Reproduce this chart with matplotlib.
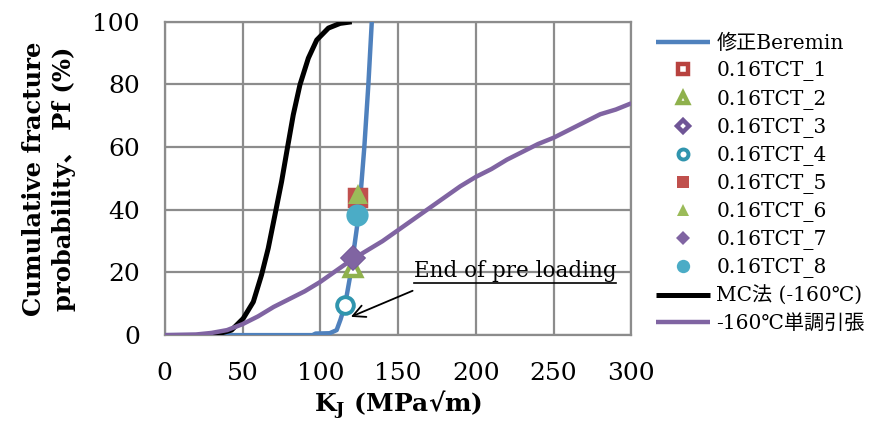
import matplotlib
matplotlib.use("Agg")
import matplotlib.pyplot as plt
from matplotlib.lines import Line2D

plt.rcParams['font.family'] = ['DejaVu Serif', 'Noto Sans CJK JP']
plt.rcParams['mathtext.fontset'] = 'dejavuserif'

# Modified Beremin model prediction
beremin_k = [0, 95, 97, 106, 110.5, 113, 115.9, 119.6, 121.7, 125.1, 128.3, 130.9, 133.1]
beremin_pf = [0, 0, 0.5, 0.6, 1.6, 5, 9.6, 20, 27.7, 40, 60, 80, 100]

# Monte Carlo method (-160 C)
mc_k = [25, 32, 42.9, 50.4, 56.9, 62.2, 66.5, 70.8, 75.1, 78.8, 82.6, 86.9, 92.3,
        97.7, 105.2, 112.7, 120.2]
mc_pf = [0, 0.1, 1.6, 5.3, 10.6, 19.2, 27.7, 38.3, 49, 59.6, 70.3, 79.9, 88.4,
         94.2, 98, 99.5, 100]

# Monotonic tension (-160 C)
mono_k = [0, 20, 30, 40, 50, 60, 70, 80, 90, 100, 110, 120, 130, 140, 150, 160, 170,
          180, 190, 200, 210, 220, 230, 240, 250, 260, 270, 280, 290, 300]
mono_pf = [0, 0.2, 0.7, 1.6, 3.5, 6, 9, 11.5, 14, 17, 20.5, 24, 27, 30, 33.5, 37, 40.5,
           44, 47.5, 50.5, 53, 56, 58.5, 61, 63, 65.5, 68, 70.5, 72, 74]

# 0.16TCT test results
tct_names = ['0.16TCT_1', '0.16TCT_2', '0.16TCT_3', '0.16TCT_4',
             '0.16TCT_5', '0.16TCT_6', '0.16TCT_7', '0.16TCT_8']
tct_k = [124.5, 121.3, 121.3, 115.9, 124.5, 124.5, 121.3, 123.8]
tct_pf = [43.9, 21.3, 24.5, 9.6, 43.9, 45, 24.5, 38.5]

x_ticks = [0, 50, 100, 150, 200, 250, 300]
y_ticks = [0, 20, 40, 60, 80, 100]

fig = plt.figure(figsize=(8.72, 4.28), dpi=100)
ax = fig.add_axes([0.189, 0.217, 0.535, 0.732])

grid_c = '#8c8c8c'
ax.set_xlim(0, 300)
ax.set_ylim(0, 100)
ax.set_xticks(x_ticks)
ax.set_yticks(y_ticks)
ax.grid(True, color=grid_c, lw=1.6)
ax.set_axisbelow(True)
for s in ax.spines.values():
    s.set_color(grid_c)
    s.set_linewidth(1.6)
ax.tick_params(length=0, labelsize=18)
ax.tick_params(axis='y', pad=18)
ax.tick_params(axis='x', pad=19)

blue = '#4F81BD'
line_kw = dict(solid_joinstyle='round', solid_capstyle='butt')
l_ber, = ax.plot(beremin_k, beremin_pf, color=blue, lw=3.2, zorder=3,
                 label='修正Beremin', **line_kw)

styles = [
    dict(marker='s', mfc='white', mec='#B8423F', ms=11, mew=3.2),
    dict(marker='^', mfc='white', mec='#8FB14C', ms=12, mew=3.2),
    dict(marker='D', mfc='white', mec='#6F5596', ms=10, mew=3.2),
    dict(marker='o', mfc='white', mec='#3095AE', ms=12, mew=2.8),
    dict(marker='s', mfc='#C0504D', mec='#C0504D', ms=14, mew=0),
    dict(marker='^', mfc='#9BBB59', mec='#9BBB59', ms=15, mew=0),
    dict(marker='D', mfc='#8064A2', mec='#8064A2', ms=12, mew=0),
    dict(marker='o', mfc='#4BACC6', mec='#4BACC6', ms=16, mew=0),
]
tct_handles = []
for name, k, p, st in zip(tct_names, tct_k, tct_pf, styles):
    h, = ax.plot([k], [p], ls='none', zorder=4, label=name, **st)
    tct_handles.append(h)

l_mc, = ax.plot(mc_k, mc_pf, color='black', lw=3.6, zorder=5,
                label='MC法 (-160℃)', **line_kw)
l_mono, = ax.plot(mono_k, mono_pf, color='#8064A2', lw=3.2, zorder=5,
                  label='-160℃単調引張', **line_kw)

ax.set_xlabel(r'$\mathbf{K_J}$ (MPa√m)', fontsize=18, fontweight='bold', labelpad=3)
ax.set_ylabel('Cumulative fracture\nprobability、 Pf (%)', fontsize=17.5,
              fontweight='bold', labelpad=12, linespacing=1.3)

# annotation for the end of pre-loading
txt = ax.text(160, 17, 'End of pre loading', fontsize=15.5, ha='left', va='bottom', zorder=6)
ax.annotate('', xy=(118, 5.5), xytext=(161, 14.5),
            arrowprops=dict(arrowstyle='->', color='black', lw=1.3, mutation_scale=22),
            zorder=6)

handles = [l_ber] + tct_handles + [l_mc, l_mono]
leg = fig.legend(handles=handles, loc='upper left', bbox_to_anchor=(0.752, 0.92),
                 frameon=False, fontsize=14.5, handlelength=2.7, handletextpad=0.3,
                 labelspacing=0.40, markerscale=0.6, borderaxespad=0, borderpad=0)

# underline under the annotation text
fig.canvas.draw()
bb = txt.get_window_extent().transformed(fig.transFigure.inverted())
fig.add_artist(Line2D([bb.x0, bb.x1], [bb.y0 - 0.002, bb.y0 - 0.002],
                      color='black', lw=1.2, transform=fig.transFigure))

fig.savefig('out.png', dpi=100)
